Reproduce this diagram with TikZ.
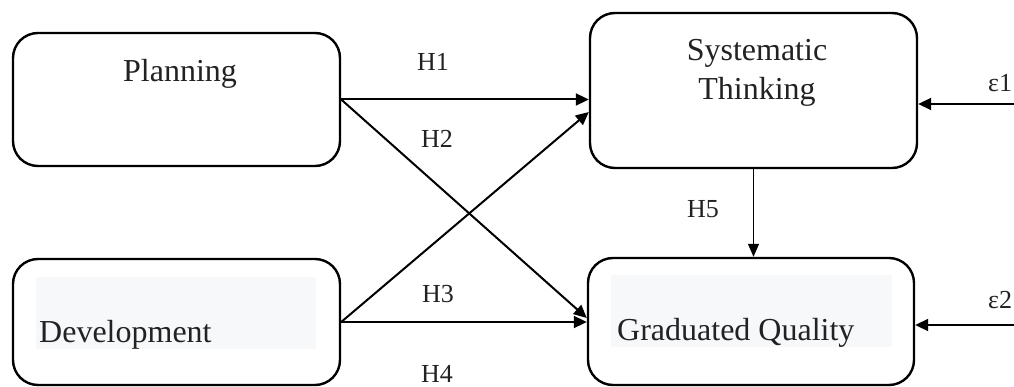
\documentclass[tikz,border=0pt]{standalone}
\usepackage{fontspec}
\setmainfont{Liberation Serif}
\usetikzlibrary{arrows.meta}
\definecolor{txtcol}{HTML}{222222}
\definecolor{lightbg}{HTML}{F7F8FA}
\tikzset{
  box/.style={draw=black, line width=2.4pt, rounded corners=25pt, rectangle, inner sep=0pt},
  boxtext/.style={font=\fontsize{32}{38}\selectfont, text=txtcol, inner sep=0pt},
  lbl/.style={font=\fontsize{26}{30}\selectfont, text=txtcol, inner sep=0pt, anchor=base},
  conn/.style={line width=2pt, -{Triangle[length=13pt,width=12pt]}},
  thinarrow/.style={line width=1.2pt, -{Triangle[length=13pt,width=11pt]}},
}
\begin{document}
\begin{tikzpicture}[x=1pt,y=-1pt]
\useasboundingbox (0,0) rectangle (1014,387);
% boxes
\node[box, minimum width=327pt, minimum height=133pt] (plan) at (176.5,99.5) {};
\node[box, minimum width=327pt, minimum height=155pt] (sys) at (753.5,90.5) {};
\node[box, minimum width=327pt, minimum height=126pt] (dev) at (176.5,322) {};
\node[box, minimum width=326pt, minimum height=127pt] (gq) at (751,321.5) {};
% light text backgrounds
\fill[lightbg] (36,277) rectangle (316,349);
\fill[lightbg] (611,275) rectangle (892,347);
% box texts
\node[boxtext, anchor=base] (tplan) at (180,82) {Planning};
\node[boxtext, anchor=base] (tsys1) at (757,61) {Systematic};
\node[boxtext, anchor=base] (tsys2) at (757,100) {Thinking};
\node[boxtext, anchor=base west] (tdev) at (39,342) {Development};
\node[boxtext, anchor=base west] (tgq) at (617,340) {Graduated Quality};
% connectors
\draw[conn] (plan.east) -- (plan.east -| sys.west);
\draw[conn] (plan.east) -- ([yshift=3.5pt]gq.west);
\draw[conn] (dev.east) -- ([yshift=-21.5pt]sys.west);
\draw[conn] (dev.east) -- (dev.east -| gq.west);
\draw[thinarrow] (sys.south) -- (sys.south |- gq.north);
\coordinate (e1) at (1014,104);
\coordinate (e2) at (1014,325);
\draw[conn] (e1) -- (e1 -| sys.east);
\draw[conn] (e2) -- (e2 -| gq.east);
% labels
\node[lbl] (h1) at (433,71) {H1};
\node[lbl] (h2) at (437,148) {H2};
\node[lbl] (h3) at (438,302) {H3};
\node[lbl] (h4) at (437,382) {H4};
\node[lbl] (h5) at (703,218) {H5};
\node[lbl, anchor=base west] (eps1) at (988,92) {ε1};
\node[lbl, anchor=base west] (eps2) at (988,308) {ε2};
\end{tikzpicture}
\end{document}
